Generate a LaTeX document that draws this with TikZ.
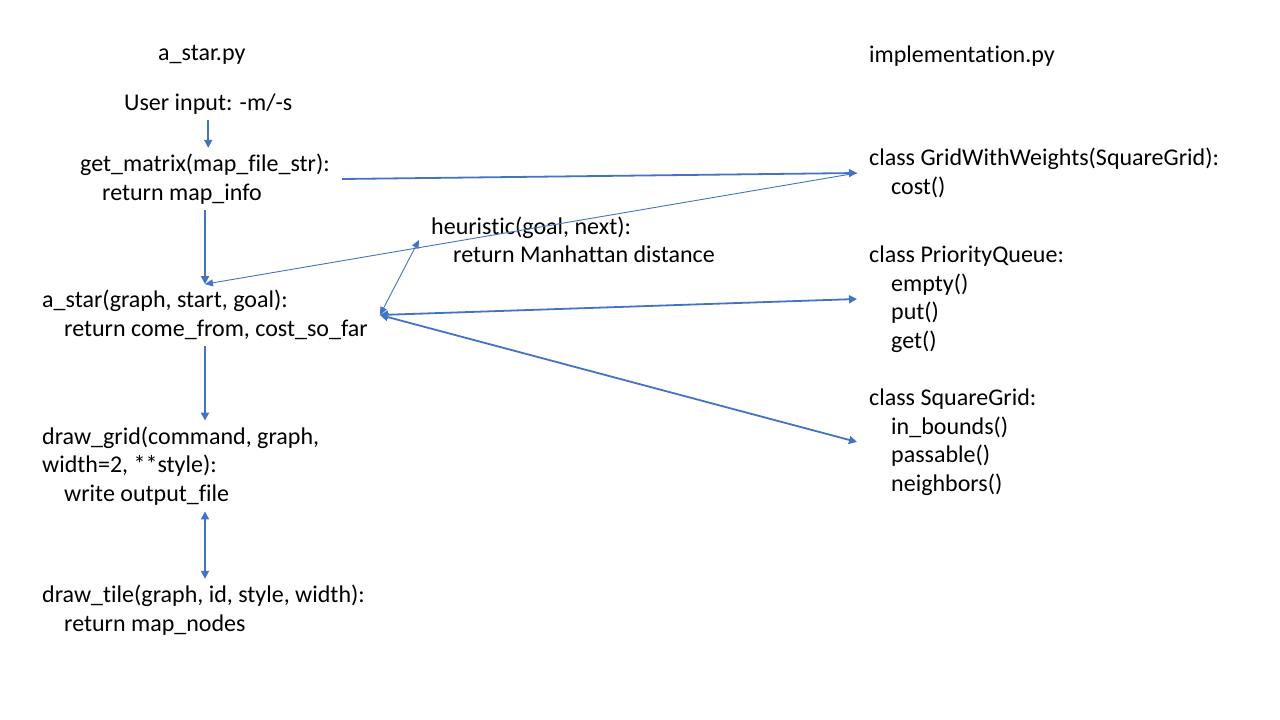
\documentclass[tikz,border=0pt]{standalone}
\usepackage{fontspec}
\setmainfont{Carlito}[Ligatures={NoCommon}]
\usetikzlibrary{arrows.meta}
\definecolor{linkblue}{HTML}{4472C4}

\begin{document}
\begin{tikzpicture}[x=1pt,y=-1pt]
  \tikzset{
    txt/.style={anchor=west, align=left, inner xsep=12pt, inner ysep=6pt,
      font=\fontsize{24}{28.5}\selectfont},
    link/.style={draw=linkblue, line width=1.8pt, -{Triangle[length=8pt,width=8pt]}},
    linkboth/.style={link, {Triangle[length=8pt,width=8pt]}-{Triangle[length=8pt,width=8pt]}},
    thinlink/.style={draw=linkblue, line width=0.9pt, -{Triangle[length=8pt,width=7pt]}},
    thinboth/.style={thinlink, {Triangle[length=8pt,width=7pt]}-{Triangle[length=8pt,width=7pt]}}
  }
  \useasboundingbox (0,0) rectangle (1280,720);

  % left column: a_star.py
  \node [txt] (astarfile) at (146,55) {a\_star.py};
  \node [txt] (user) at (112,104) {User input: -m/-s};
  \node [txt] (gm) at (68,179) {get\_matrix(map\_file\_str):\\\hspace*{22pt}return map\_info};
  \node [txt] (astar) at (30,315) {a\_star(graph, start, goal):\\\hspace*{22pt}return come\_from, cost\_so\_far};
  \node [txt] (dg) at (30,466) {draw\_grid(command, graph,\\width=2, **style):\\\hspace*{22pt}write output\_file};
  \node [txt] (dt) at (30,610) {draw\_tile(graph, id, style, width):\\\hspace*{22pt}return map\_nodes};

  \node [txt] (heur) at (419,240) {heuristic(goal, next):\\\hspace*{22pt}return Manhattan distance};

  % right column: implementation.py
  \node [txt] (implfile) at (857,56) {implementation.py};
  \node [txt] (gww) at (857,173) {class GridWithWeights(SquareGrid):\\\hspace*{22pt}cost()};
  \node [txt] (pq) at (857,299) {class PriorityQueue:\\\hspace*{22pt}empty()\\\hspace*{22pt}put()\\\hspace*{22pt}get()};
  \node [txt] (sg) at (857,442) {class SquareGrid:\\\hspace*{22pt}in\_bounds()\\\hspace*{22pt}passable()\\\hspace*{22pt}neighbors()};

  % calls
  \draw [link] (user.south) -- (user.south |- gm.north);
  \draw [link] (gm.south) -- (gm.south |- astar.north);
  \draw [link] (astar.south) -- (astar.south |- dg.north);
  \draw [linkboth] (dg.south -| astar.south) -- (dt.north -| astar.south);

  \draw [link] (gm.east) -- (gww.west);
  \draw [thinlink] (gww.west) -- (astar.north);
  \draw [thinboth] (astar.east) -- (heur.west);
  \draw [linkboth] (astar.east) -- (pq.west);
  \draw [linkboth] (astar.east) -- (sg.west);
\end{tikzpicture}
\end{document}
